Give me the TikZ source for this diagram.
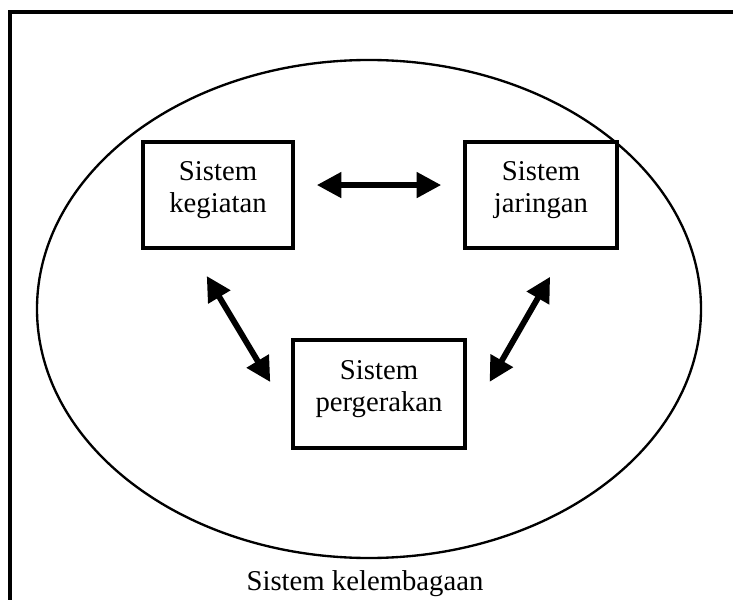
\documentclass[tikz,border=0pt]{standalone}
\usepackage{fontspec}
\setmainfont{Liberation Serif}
\usetikzlibrary{arrows.meta}

\begin{document}
\begin{tikzpicture}[x=0.03cm, y=-0.03cm,
    sysbox/.style={draw, line width=3.6pt, align=center, inner sep=0pt,
      text depth=14pt, font=\fontsize{24.5}{27}\selectfont},
    twoway/.style={line width=5pt,
      {Triangle[length=21pt,width=21pt]}-{Triangle[length=21pt,width=21pt]}}]
  \useasboundingbox (0,0) rectangle (733,600);
  \clip (0,0) rectangle (733,600);
  \draw[line width=3.2pt] (10,12) rectangle (780,650); %outer frame
  \draw[line width=2pt] (369,309) ellipse [x radius=332, y radius=249];

  %draw the three systems
  \node[sysbox, minimum width=127.6pt, minimum height=90pt] (keg) at (218,195) {Sistem\\kegiatan};
  \node[sysbox, minimum width=129.3pt, minimum height=90pt] (jar) at (541,195) {Sistem\\jaringan};
  \node[sysbox, minimum width=146.3pt, minimum height=91.8pt] (per) at (379,394) {Sistem\\pergerakan};

  %draw two-way links
  \draw[twoway, shorten <=18.7pt, shorten >=18.7pt] ([yshift=8.5pt]keg.east) -- ([yshift=8.5pt]jar.west);
  \draw[twoway, shorten <=26pt, shorten >=34.7pt] ([xshift=-23pt]keg.south) -- ([yshift=-19.6pt]per.west);
  \draw[twoway, shorten <=26.5pt, shorten >=39pt] ([xshift=21pt]jar.south) -- ([yshift=-23.5pt]per.east);

  %draw label
  \node[font=\fontsize{24.5}{27}\selectfont] (lem) at (365,584) {Sistem kelembagaan};
\end{tikzpicture}
\end{document}
